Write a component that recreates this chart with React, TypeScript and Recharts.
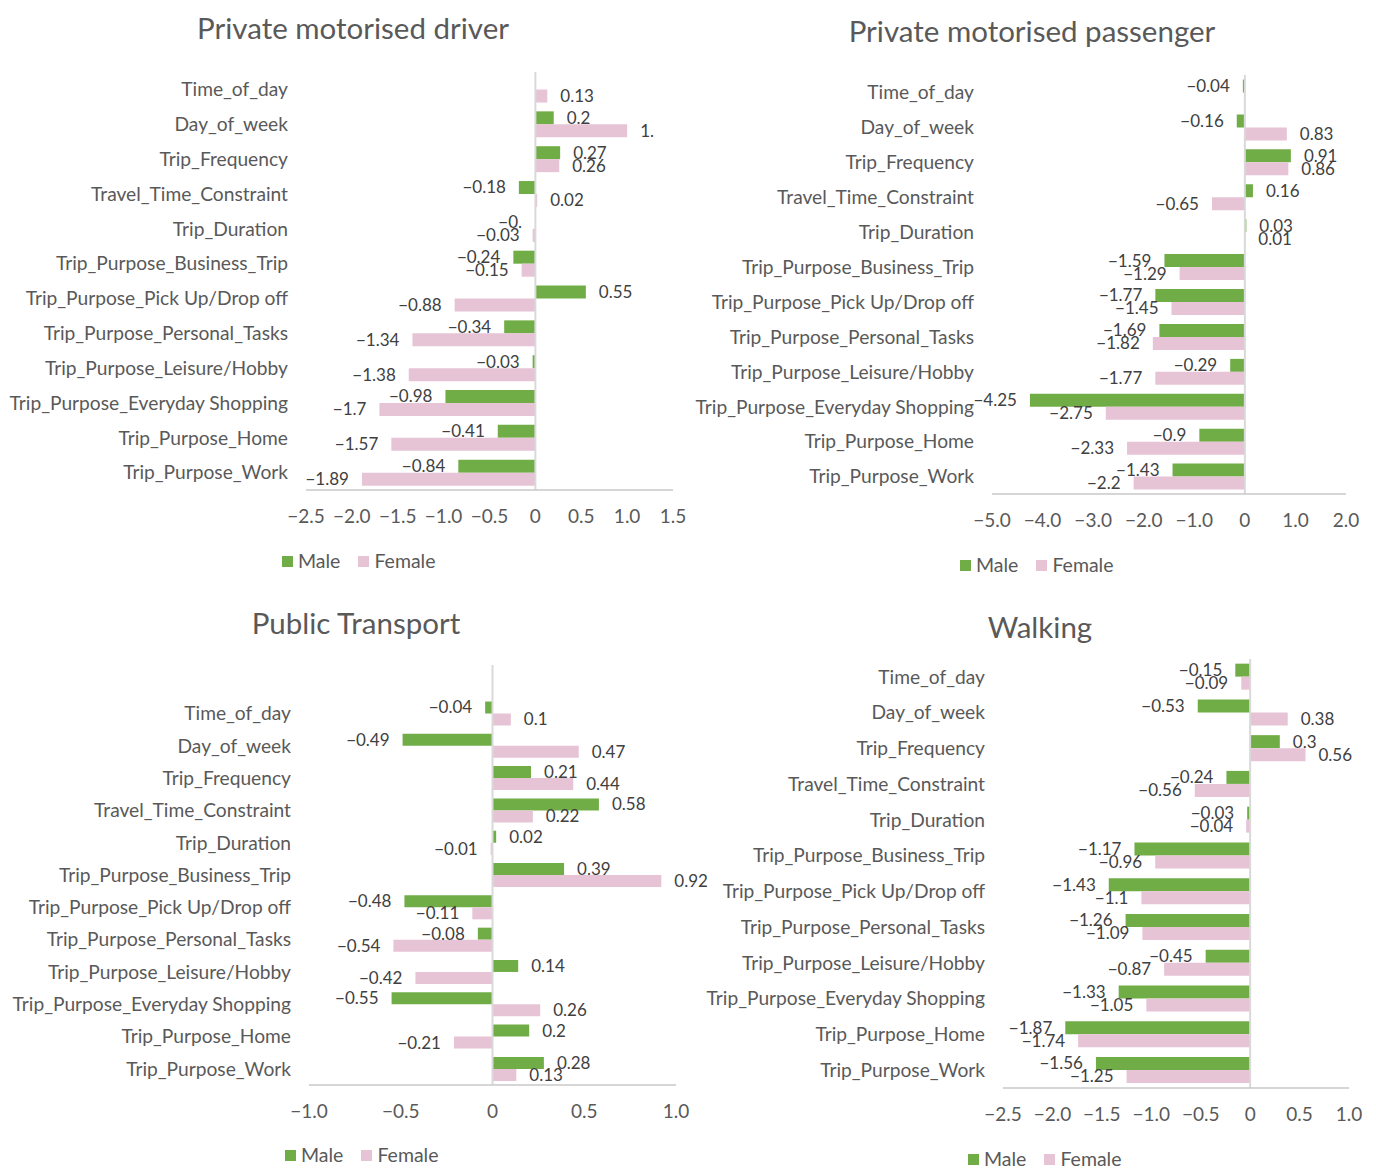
import { BarChart, Bar, XAxis, YAxis, ReferenceLine, LabelList, Legend } from 'recharts';

const factors = [
  'Time_of_day',
  'Day_of_week',
  'Trip_Frequency',
  'Travel_Time_Constraint',
  'Trip_Duration',
  'Trip_Purpose_Business_Trip',
  'Trip_Purpose_Pick Up/Drop off',
  'Trip_Purpose_Personal_Tasks',
  'Trip_Purpose_Leisure/Hobby',
  'Trip_Purpose_Everyday Shopping',
  'Trip_Purpose_Home',
  'Trip_Purpose_Work',
];
// public transport panel has an empty first row
const publicFactors = ['', ...factors];

const driverMale = [null, 0.2, 0.27, -0.18, -0.004, -0.24, 0.55, -0.34, -0.03, -0.98, -0.41, -0.84];
const driverFemale = [0.13, 1.0, 0.26, 0.02, -0.03, -0.15, -0.88, -1.34, -1.38, -1.7, -1.57, -1.89];

const passengerMale = [-0.04, -0.16, 0.91, 0.16, 0.03, -1.59, -1.77, -1.69, -0.29, -4.25, -0.9, -1.43];
const passengerFemale = [null, 0.83, 0.86, -0.65, 0.01, -1.29, -1.45, -1.82, -1.77, -2.75, -2.33, -2.2];

const publicMale = [null, -0.04, -0.49, 0.21, 0.58, 0.02, 0.39, -0.48, -0.08, 0.14, -0.55, 0.2, 0.28];
const publicFemale = [null, 0.1, 0.47, 0.44, 0.22, -0.01, 0.92, -0.11, -0.54, -0.42, 0.26, -0.21, 0.13];

const walkingMale = [-0.15, -0.53, 0.3, -0.24, -0.03, -1.17, -1.43, -1.26, -0.45, -1.33, -1.87, -1.56];
const walkingFemale = [-0.09, 0.38, 0.56, -0.56, -0.04, -0.96, -1.1, -1.09, -0.87, -1.05, -1.74, -1.25];

const driverTicks = [-2.5, -2, -1.5, -1, -0.5, 0, 0.5, 1, 1.5];
const passengerTicks = [-5, -4, -3, -2, -1, 0, 1, 2];
const publicTicks = [-1, -0.5, 0, 0.5, 1];
const walkingTicks = [-2.5, -2, -1.5, -1, -0.5, 0, 0.5, 1];

// labels that get cut short in the original workbook, keyed by panel:series:value
const clippedLabels: Record<string, string> = {
  'driver:female:1': '1.',
  'driver:male:-0.004': '\u22120.',
};

const seriesOrder = ['Male', 'Female'];

const GREEN = '#70AD47';
const PINK = '#E7C3D6';
const FONT = 'Lato, "Open Sans", sans-serif';

const minus = (s: string) => s.replace('-', '\u2212');
const fmtTick = (v: number) => (v === 0 ? '0' : minus(v.toFixed(1)));
const fmtValue = (v: number) => minus(String(v));

type Plot = { left: number; right: number; top: number; bottom: number };

interface PanelProps {
  id: string;
  title: string;
  titleX: number;
  titleY: number;
  categories: string[];
  male: (number | null)[];
  female: (number | null)[];
  ticks: number[];
  plot: Plot;
  legendX: number;
  legendY: number;
}

const LegendContent = (props: any) => {
  const items = [...(props.payload || [])].sort(
    (a: any, b: any) => seriesOrder.indexOf(a.value) - seriesOrder.indexOf(b.value)
  );
  return (
    <div style={{ display: 'flex', fontFamily: FONT, fontSize: 19.5, color: '#595959', lineHeight: '22px' }}>
      {items.map((p: any) => (
        <span key={p.value} style={{ display: 'flex', alignItems: 'center', marginRight: 18 }}>
          <span style={{ display: 'inline-block', width: 11, height: 11, background: p.color, marginRight: 5 }} />
          {p.value}
        </span>
      ))}
    </div>
  );
};

function Panel({ id, title, titleX, titleY, categories, male, female, ticks, plot, legendX, legendY }: PanelProps) {
  const yAxisWidth = 320;
  const chartLeft = plot.left - yAxisWidth;
  const chartTop = plot.top - 10;
  const width = plot.right + 40 - chartLeft;
  const height = plot.bottom + 50 - chartTop;

  const data = categories.map((c, i) => ({ factor: c, male: male[i], female: female[i] }));

  const valueLabel = (series: string) => (props: any) => {
    const { value } = props;
    if (value == null) return null;
    const vb = props.viewBox ?? props;
    const x0 = Number(vb.x);
    const w = Number(vb.width);
    const y = Number(vb.y) + Number(vb.height) / 2;
    const neg = value < 0;
    const end = neg ? Math.min(x0, x0 + w) : Math.max(x0, x0 + w);
    const text = clippedLabels[`${id}:${series}:${value}`] ?? fmtValue(value);
    return (
      <text
        x={neg ? end - 13 : end + 13}
        y={y}
        dy="0.35em"
        textAnchor={neg ? 'end' : 'start'}
        fontFamily={FONT}
        fontSize={17}
        fill="#404040"
      >
        {text}
      </text>
    );
  };

  return (
    <>
      <div
        style={{
          position: 'absolute',
          left: titleX,
          top: titleY,
          transform: 'translate(-50%, -50%)',
          fontFamily: FONT,
          fontSize: 29.5,
          color: '#595959',
          whiteSpace: 'nowrap',
        }}
      >
        {title}
      </div>
      <div style={{ position: 'absolute', left: chartLeft, top: chartTop }}>
        <BarChart
          width={width}
          height={height}
          data={data}
          layout="vertical"
          barCategoryGap="13%"
          barGap={0}
          margin={{ top: 10, right: 40, bottom: 20, left: 0 }}
        >
          <XAxis
            type="number"
            domain={[ticks[0], ticks[ticks.length - 1]]}
            ticks={ticks}
            tickFormatter={fmtTick}
            interval={0}
            height={30}
            axisLine={{ stroke: '#C9C9C9', strokeWidth: 1.5 }}
            tickLine={false}
            tickMargin={14}
            tick={{ fontFamily: FONT, fontSize: 19, fill: '#595959' }}
          />
          <YAxis
            type="category"
            dataKey="factor"
            width={yAxisWidth}
            interval={0}
            axisLine={false}
            tickLine={false}
            tickMargin={12}
            tick={{ fontFamily: FONT, fontSize: 19.2, fill: '#595959' }}
          />
          <ReferenceLine x={0} stroke="#D9D9D9" strokeWidth={2} />
          <Legend
            verticalAlign="middle"
            content={LegendContent}
            wrapperStyle={{ left: legendX - chartLeft, top: legendY - chartTop - 11, width: 'auto', height: 'auto' }}
          />
          <Bar dataKey="male" name="Male" fill={GREEN} isAnimationActive={false}>
            <LabelList dataKey="male" content={valueLabel('male')} />
          </Bar>
          <Bar dataKey="female" name="Female" fill={PINK} isAnimationActive={false}>
            <LabelList dataKey="female" content={valueLabel('female')} />
          </Bar>
        </BarChart>
      </div>
    </>
  );
}

export default function App() {
  return (
    <div style={{ position: 'absolute', left: 0, top: 0, width: 1376, height: 1170, background: '#fff' }}>
      <Panel
        id="driver"
        title="Private motorised driver"
        titleX={353}
        titleY={27}
        categories={factors}
        male={driverMale}
        female={driverFemale}
        ticks={driverTicks}
        plot={{ left: 306, right: 673, top: 72, bottom: 490 }}
        legendX={282}
        legendY={561}
      />
      <Panel
        id="passenger"
        title="Private motorised passenger"
        titleX={1032}
        titleY={30}
        categories={factors}
        male={passengerMale}
        female={passengerFemale}
        ticks={passengerTicks}
        plot={{ left: 992, right: 1346, top: 75, bottom: 494 }}
        legendX={960}
        legendY={565}
      />
      <Panel
        id="public"
        title="Public Transport"
        titleX={356}
        titleY={622}
        categories={publicFactors}
        male={publicMale}
        female={publicFemale}
        ticks={publicTicks}
        plot={{ left: 309, right: 676, top: 665, bottom: 1085 }}
        legendX={285}
        legendY={1155}
      />
      <Panel
        id="walking"
        title="Walking"
        titleX={1040}
        titleY={626}
        categories={factors}
        male={walkingMale}
        female={walkingFemale}
        ticks={walkingTicks}
        plot={{ left: 1003, right: 1349, top: 659, bottom: 1088 }}
        legendX={968}
        legendY={1159}
      />
    </div>
  );
}
